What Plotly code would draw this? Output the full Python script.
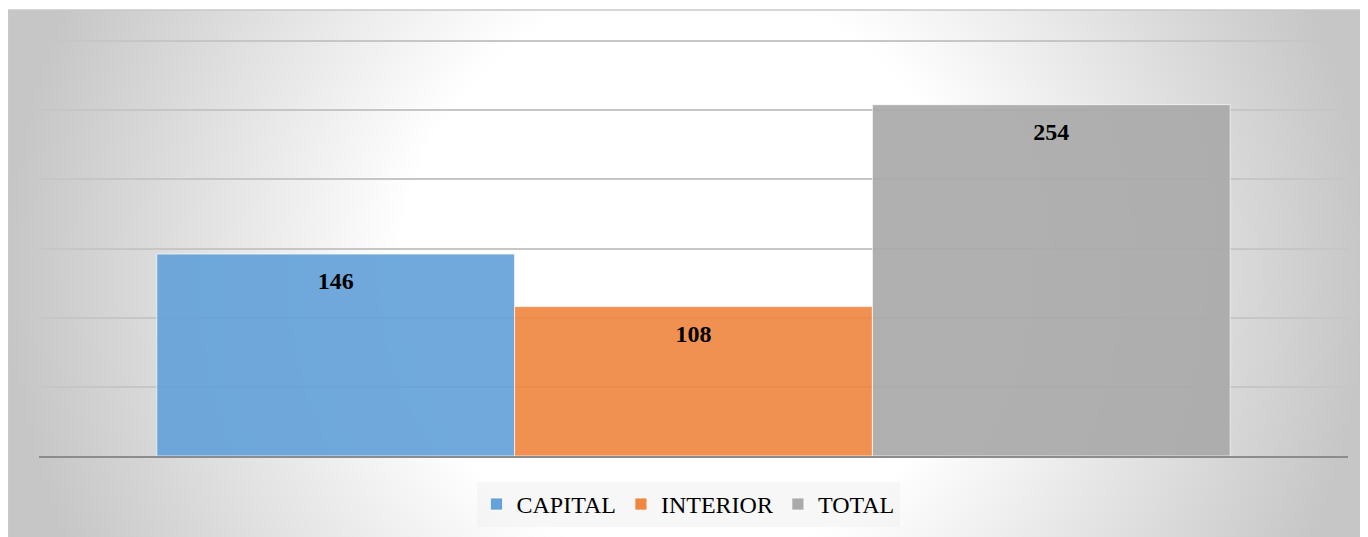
import plotly.graph_objects as go

# ---- data ----
series_names = ["CAPITAL", "INTERIOR", "TOTAL"]
series_values = [146, 108, 254]
series_colors = ["#65a2da", "#ef8743", "#aaaaaa"]
category = [""]
y_ticks = [0, 50, 100, 150, 200, 250, 300]

W, H = 1360, 529

fig = go.Figure()

# background radial gradient (full paper, axes x/y)
cx, cy, R = 680, 264, 680
fig.add_trace(go.Scatter(
    x=[cx - R, cx + R, cx + R, cx - R, cx - R],
    y=[cy - R, cy - R, cy + R, cy + R, cy - R],
    fill="toself", mode="none",
    fillgradient=dict(type="radial",
                      colorscale=[[0, "#ffffff"], [0.42, "#ffffff"], [1, "#c6c6c6"]]),
    hoverinfo="skip", showlegend=False, xaxis="x", yaxis="y",
))

for name, val, col in zip(series_names, series_values, series_colors):
    fig.add_trace(go.Bar(
        name=name, x=category, y=[val], xaxis="x2", yaxis="y2",
        marker=dict(color=col, opacity=0.92,
                    line=dict(color="rgba(255,255,255,0.7)", width=1)),
        texttemplate="<span style='font-size:1px'> </span><br>%{y}",
        textposition="inside", insidetextanchor="end",
        textfont=dict(family="Liberation Serif", size=24, color="black", weight="bold"),
        textangle=0,
    ))

ymax = 302
px_per_unit = 415 / 300
fig.update_layout(
    width=W, height=H,
    margin=dict(l=0, r=0, t=0, b=0),
    paper_bgcolor="white", plot_bgcolor="rgba(0,0,0,0)",
    barmode="group", bargap=0.18, bargroupgap=0,
    xaxis=dict(domain=[0, 1], range=[0, W], visible=False, fixedrange=True),
    yaxis=dict(domain=[0, 1], range=[0, H], visible=False, fixedrange=True),
    xaxis2=dict(domain=[31 / W, 1340 / W], anchor="y2", showticklabels=False,
                showgrid=False, showline=True, linecolor="#8c8c8c", linewidth=2,
                ticks=""),
    yaxis2=dict(domain=[1 - 448 / H, 1 - (33 - (ymax - 300) * px_per_unit) / H],
                anchor="x2", range=[0, ymax],
                tickvals=y_ticks, showticklabels=False, showgrid=True,
                gridcolor="#c6c6c6", gridwidth=1.5, zeroline=False, ticks=""),
    showlegend=True,
    legend=dict(orientation="h", x=0.5, xanchor="center", y=0.019, yanchor="bottom",
                bgcolor="rgba(240,240,240,0.55)",
                font=dict(family="Liberation Serif", size=24, color="black")),
    font=dict(family="Liberation Serif"),
    shapes=[
        dict(type="rect", xref="paper", yref="paper", x0=0, x1=1,
             y0=1 - 2 / H, y1=1, fillcolor="white", line=dict(width=0), layer="above"),
        dict(type="line", xref="paper", yref="paper", x0=0, x1=1,
             y0=1 - 2 / H, y1=1 - 2 / H, line=dict(color="#c8c8c8", width=1.5)),
        dict(type="line", xref="paper", yref="paper", x0=0.0005, x1=0.0005,
             y0=0, y1=1 - 2 / H, line=dict(color="#c8c8c8", width=1.5)),
    ],
)

fig.write_html("out.html")
